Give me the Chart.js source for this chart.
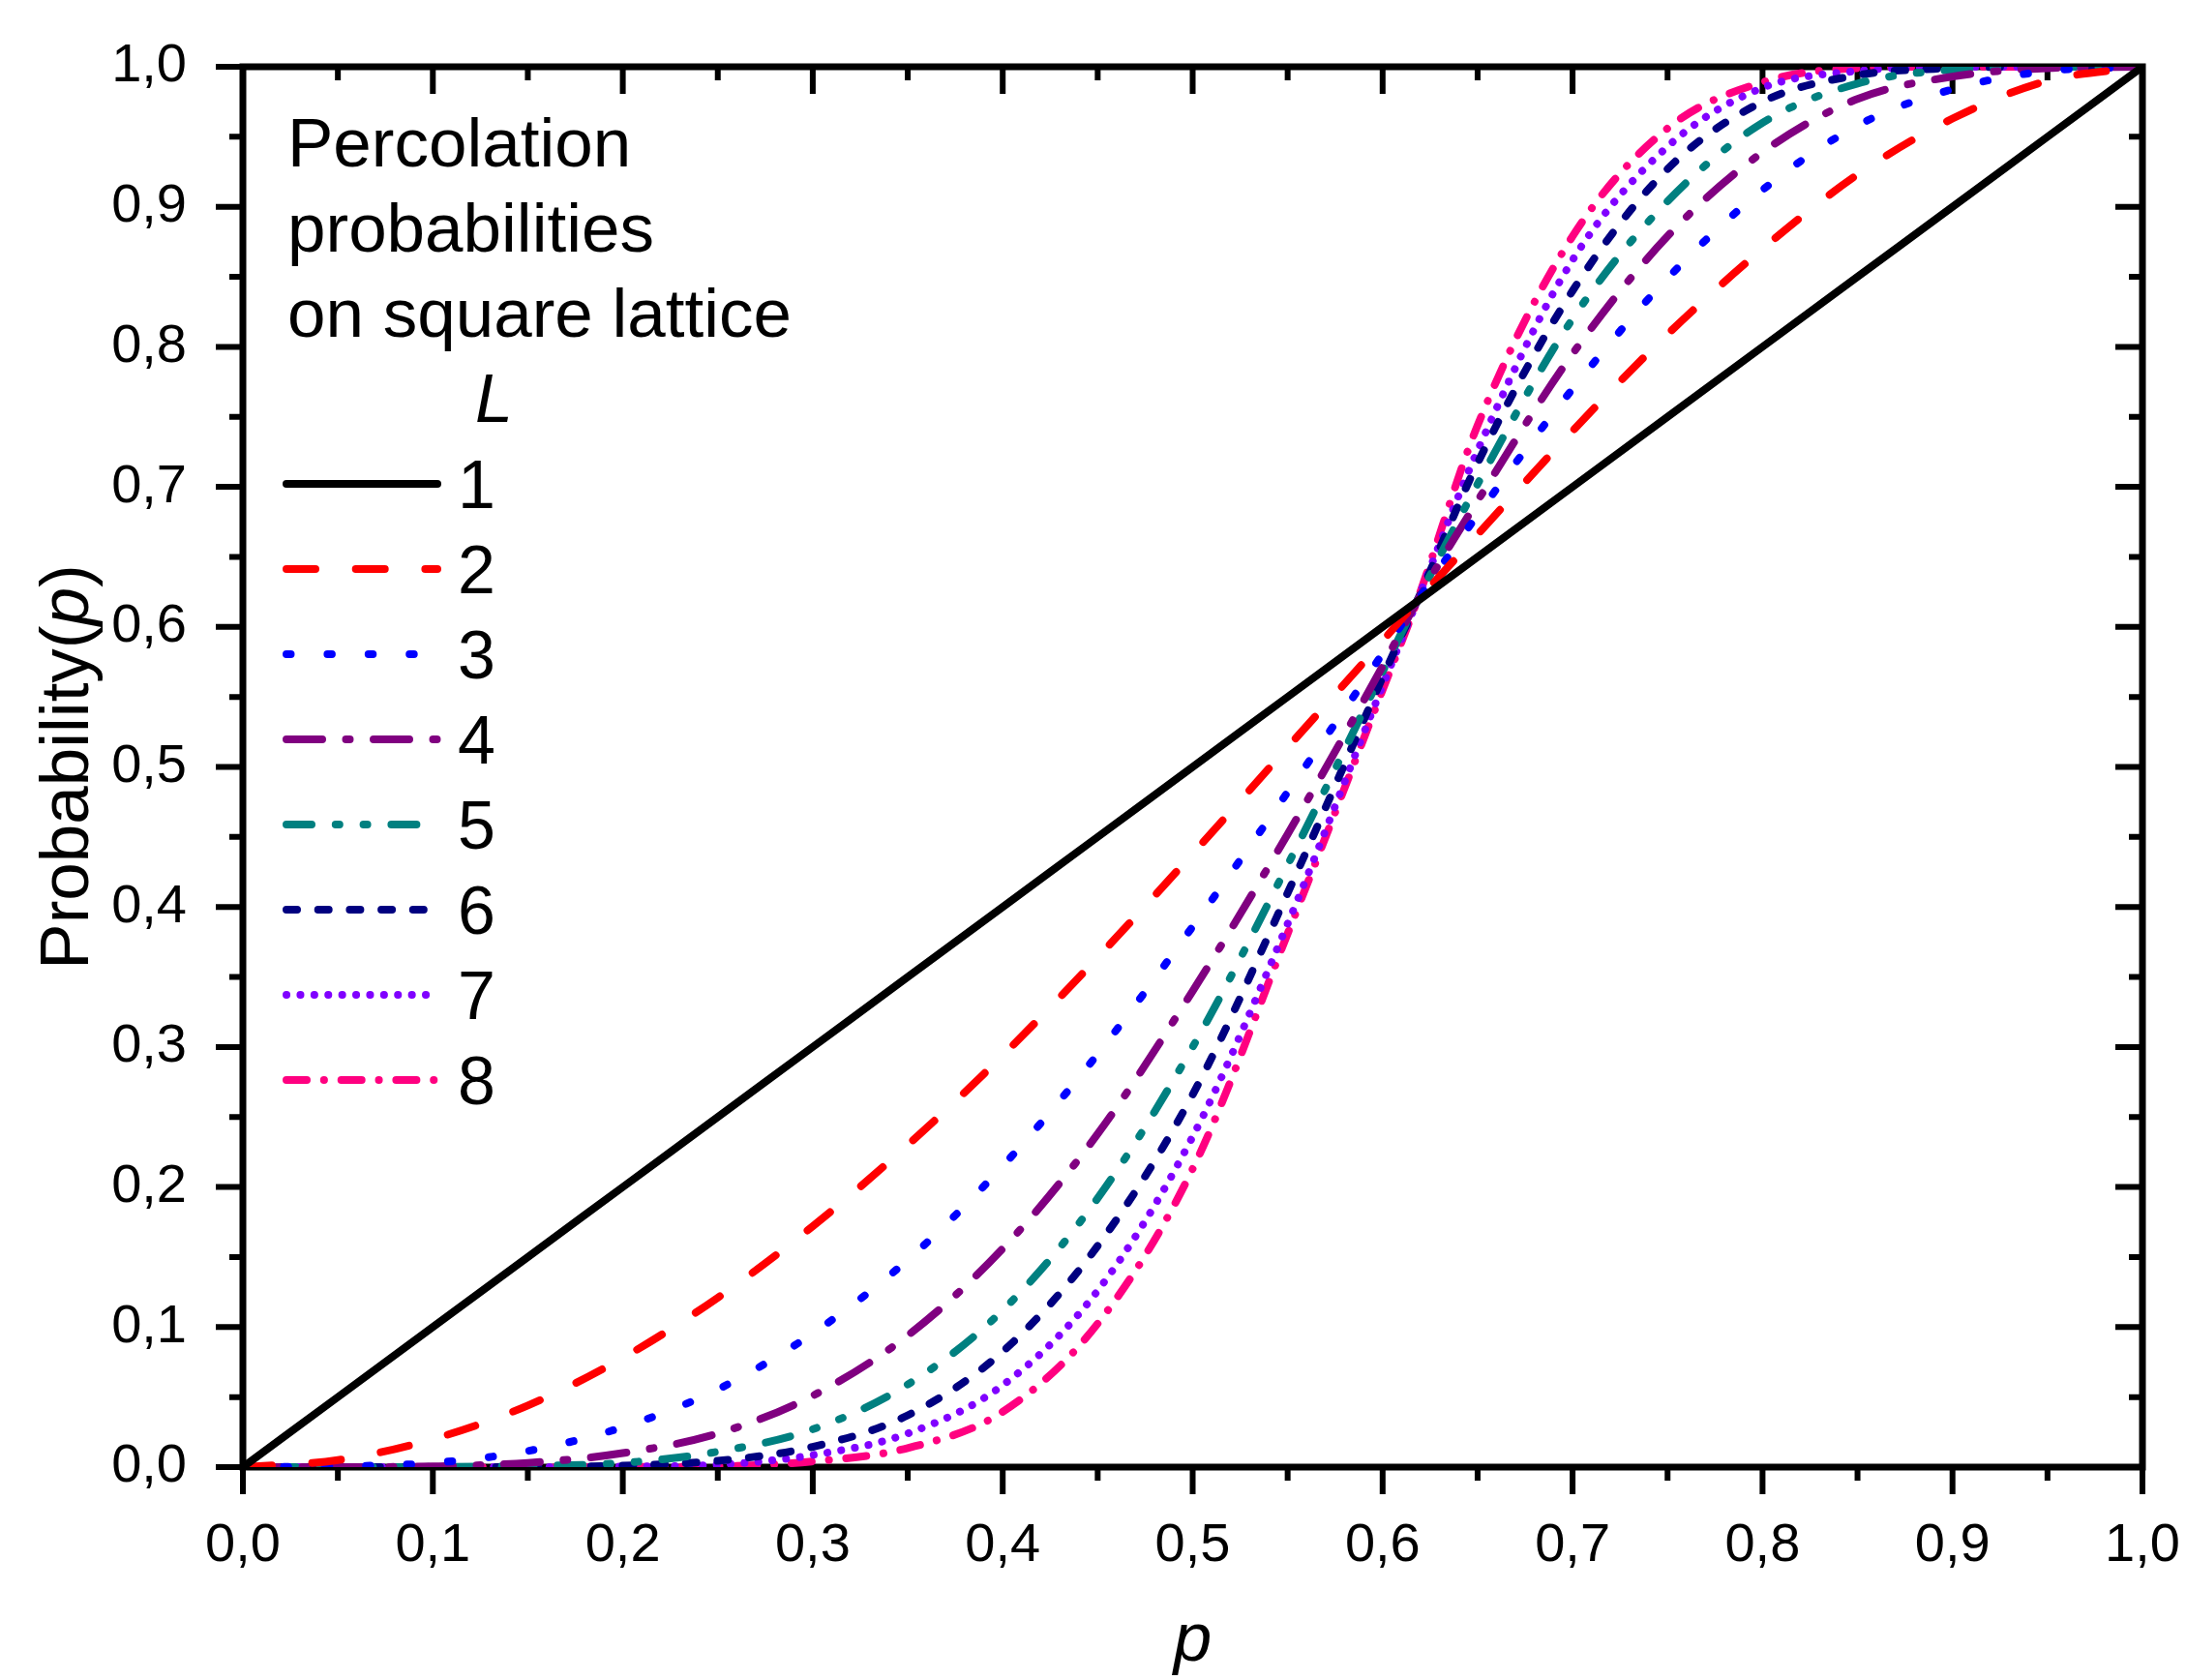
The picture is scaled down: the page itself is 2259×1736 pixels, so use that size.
<!DOCTYPE html>
<html>
<head>
<meta charset="utf-8">
<script src="https://cdn.jsdelivr.net/npm/chart.js@4.4.1/dist/chart.umd.min.js"></script>
<style>
  html, body { margin: 0; padding: 0; background: #fff; }
  #wrap { width: 2259px; height: 1736px; }
</style>
</head>
<body>
<div id="wrap"><canvas id="myChart"></canvas></div>
<script>
let chart = document.getElementById('myChart');

// values, one array per lattice size L
var p_values = [0, 0.05, 0.1, 0.15, 0.2, 0.25, 0.3, 0.35, 0.4, 0.45, 0.5, 0.55, 0.6, 0.618, 0.65, 0.7, 0.75, 0.8, 0.85, 0.9, 0.95, 1];
var prob_L1 = [0, 0.05, 0.1, 0.15, 0.2, 0.25, 0.3, 0.35, 0.4, 0.45, 0.5, 0.55, 0.6, 0.618, 0.65, 0.7, 0.75, 0.8, 0.85, 0.9, 0.95, 1];
var prob_L2 = [0, 0.005, 0.020, 0.044, 0.078, 0.121, 0.172, 0.230, 0.294, 0.364, 0.438, 0.514, 0.590, 0.618, 0.666, 0.740, 0.809, 0.870, 0.923, 0.963, 0.990, 1];
var prob_L3 = [0, 0.0005, 0.003, 0.0115, 0.0285, 0.0555, 0.0955, 0.148, 0.215, 0.295, 0.386, 0.482, 0.581, 0.618, 0.680, 0.770, 0.849, 0.912, 0.958, 0.984, 0.997, 1];
var prob_L4 = [0, 0, 0.0005, 0.003, 0.010, 0.024, 0.051, 0.094, 0.156, 0.238, 0.340, 0.452, 0.572, 0.618, 0.690, 0.795, 0.879, 0.939, 0.977, 0.993, 0.999, 1];
var prob_L5 = [0, 0, 0.0001, 0.0008, 0.003, 0.011, 0.027, 0.059, 0.112, 0.192, 0.300, 0.430, 0.568, 0.618, 0.702, 0.820, 0.904, 0.960, 0.988, 0.998, 1, 1];
var prob_L6 = [0, 0, 0, 0.0002, 0.001, 0.0045, 0.0145, 0.037, 0.0825, 0.158, 0.266, 0.410, 0.564, 0.618, 0.717, 0.840, 0.927, 0.975, 0.994, 0.999, 1, 1];
var prob_L7 = [0, 0, 0, 0, 0.0003, 0.0017, 0.0086, 0.024, 0.0585, 0.126, 0.236, 0.388, 0.558, 0.618, 0.726, 0.862, 0.943, 0.985, 0.997, 1, 1, 1];
var prob_L8 = [0, 0, 0, 0, 0.0001, 0.0006, 0.004, 0.0136, 0.0395, 0.1025, 0.213, 0.381, 0.555, 0.618, 0.744, 0.879, 0.956, 0.989, 0.999, 1, 1, 1];

var series_labels = ['1', '2', '3', '4', '5', '6', '7', '8'];
var tick_values = [0, 0.1, 0.2, 0.3, 0.4, 0.5, 0.6, 0.7, 0.8, 0.9, 1.0];
var note_lines = ['Percolation', 'probabilities', 'on square lattice'];
var legend_head = 'L';
var x_title = 'p';
var y_title = ['Probability(', 'p', ')'];

var series_colors = ['#000000', '#ff0000', '#0000ff', '#800080', '#008080', '#000080', '#8000ff', '#ff0080'];
var series_dash = [
  [],
  [30, 41.7],
  [4.5, 37.9],
  [37, 24.5, 4, 24.5],
  [26, 24.8, 4, 24.8, 4, 24.8],
  [11, 21.7],
  [0.1, 14.3],
  [21, 17.8, 0.1, 17.8]
];
var LINE_W = 8;

var FONT = '"Liberation Sans", Arial, sans-serif';
Chart.defaults.font.family = FONT;

function fmt(v) {
  return v.toFixed(1).replace('.', ',');
}

var all_series = [prob_L1, prob_L2, prob_L3, prob_L4, prob_L5, prob_L6, prob_L7, prob_L8];
var datasets = all_series.map(function (arr, i) {
  return {
    label: series_labels[i],
    data: arr.map(function (v, j) { return { x: p_values[j], y: v }; }),
    borderColor: series_colors[i],
    borderDash: series_dash[i],
    borderWidth: LINE_W,
    borderCapStyle: 'round',
    borderJoinStyle: 'round',
    fill: false,
    pointRadius: 0,
    cubicInterpolationMode: 'monotone'
  };
});

// box round the plot, ticks on all four sides (Origin style)
const framePlugin = {
  id: 'frame',
  beforeDatasetsDraw(c) {
    const ctx = c.ctx, a = c.chartArea, xs = c.scales.x, ys = c.scales.y;
    ctx.save();
    ctx.strokeStyle = '#000';
    ctx.lineWidth = 7;
    ctx.lineCap = 'butt';
    ctx.strokeRect(a.left, a.top, a.right - a.left, a.bottom - a.top);
    ctx.lineWidth = 6;
    ctx.beginPath();
    for (let i = 0; i < tick_values.length; i++) {
      let v = tick_values[i];
      let px = xs.getPixelForValue(v), py = ys.getPixelForValue(v);
      ctx.moveTo(px, a.bottom); ctx.lineTo(px, a.bottom + 28);
      ctx.moveTo(px, a.top); ctx.lineTo(px, a.top + 28);
      ctx.moveTo(a.left, py); ctx.lineTo(a.left - 28, py);
      ctx.moveTo(a.right, py); ctx.lineTo(a.right - 28, py);
      if (i < tick_values.length - 1) {
        let m = (v + tick_values[i + 1]) / 2;
        let mx = xs.getPixelForValue(m), my = ys.getPixelForValue(m);
        ctx.moveTo(mx, a.bottom); ctx.lineTo(mx, a.bottom + 14);
        ctx.moveTo(mx, a.top); ctx.lineTo(mx, a.top + 14);
        ctx.moveTo(a.left, my); ctx.lineTo(a.left - 14, my);
        ctx.moveTo(a.right, my); ctx.lineTo(a.right - 14, my);
      }
    }
    ctx.stroke();
    ctx.restore();
  }
};

// text block and line samples inside the plot
const notePlugin = {
  id: 'note',
  afterDatasetsDraw(c) {
    const ctx = c.ctx, a = c.chartArea;
    ctx.save();
    ctx.fillStyle = '#000';
    ctx.textBaseline = 'alphabetic';
    ctx.textAlign = 'left';
    ctx.font = '71px ' + FONT;
    note_lines.forEach(function (t, i) {
      ctx.fillText(t, a.left + 46, a.top + 103 + i * 88);
    });
    ctx.font = 'italic 70px ' + FONT;
    ctx.fillText(legend_head, a.left + 240, a.top + 367);
    c.data.datasets.forEach(function (ds, i) {
      let y = a.top + 431 + i * 88;
      ctx.beginPath();
      ctx.setLineDash(ds.borderDash);
      ctx.lineCap = 'round';
      ctx.lineWidth = ds.borderWidth;
      ctx.strokeStyle = ds.borderColor;
      ctx.moveTo(a.left + 45, y);
      ctx.lineTo(a.left + 201, y);
      ctx.stroke();
      ctx.setLineDash([]);
      ctx.font = '70px ' + FONT;
      ctx.fillText(ds.label, a.left + 222, y + 25);
    });
    ctx.restore();
  }
};

// axis titles, with the italic p
const titlePlugin = {
  id: 'titles',
  afterDraw(c) {
    const ctx = c.ctx, a = c.chartArea;
    const normal = '71px ' + FONT, italic = 'italic 71px ' + FONT;
    ctx.save();
    ctx.fillStyle = '#000';
    ctx.textBaseline = 'alphabetic';
    ctx.textAlign = 'left';
    ctx.font = italic;
    let w = ctx.measureText(x_title).width;
    ctx.fillText(x_title, (a.left + a.right) / 2 - w / 2, 1716);

    let fonts = [normal, italic, normal];
    let widths = y_title.map(function (t, i) { ctx.font = fonts[i]; return ctx.measureText(t).width; });
    let total = widths.reduce(function (s, v) { return s + v; }, 0);
    ctx.translate(91, (a.top + a.bottom) / 2);
    ctx.rotate(-Math.PI / 2);
    let x = -total / 2;
    y_title.forEach(function (t, i) {
      ctx.font = fonts[i];
      ctx.fillText(t, x, 0);
      x += widths[i];
    });
    ctx.restore();
  }
};

// fixed axis sizes so the plot box lands where it is in the original
function noScalePadding(s) {
  s.paddingTop = 0;
  s.paddingBottom = 0;
  s.paddingLeft = 0;
  s.paddingRight = 0;
}

const config = {
  type: 'line',
  data: { datasets: datasets },
  options: {
    responsive: true,
    maintainAspectRatio: false,
    animation: false,
    layout: { padding: { top: 69, right: 45, left: 0, bottom: 0 } },
    plugins: {
      legend: { display: false },
      tooltip: { enabled: false }
    },
    scales: {
      x: {
        type: 'linear',
        min: 0,
        max: 1,
        afterFit: function (s) { s.height = 220; noScalePadding(s); },
        afterBuildTicks: function (s) { s.ticks = tick_values.map(function (v) { return { value: v }; }); },
        grid: { display: false },
        border: { display: false },
        title: { display: false },
        ticks: {
          color: '#000',
          font: { size: 56, lineHeight: 1.2 },
          padding: 40,
          maxRotation: 0,
          autoSkip: false,
          callback: function (v) { return fmt(v); }
        }
      },
      y: {
        type: 'linear',
        min: 0,
        max: 1,
        afterFit: function (s) { s.width = 251; noScalePadding(s); },
        afterBuildTicks: function (s) { s.ticks = tick_values.map(function (v) { return { value: v }; }); },
        grid: { display: false },
        border: { display: false },
        title: { display: false },
        ticks: {
          color: '#000',
          font: { size: 56, lineHeight: 1.2 },
          padding: 50,
          autoSkip: false,
          callback: function (v) { return fmt(v); }
        }
      }
    }
  },
  plugins: [framePlugin, notePlugin, titlePlugin]
};

var myChart = new Chart(chart, config);
</script>
</body>
</html>
